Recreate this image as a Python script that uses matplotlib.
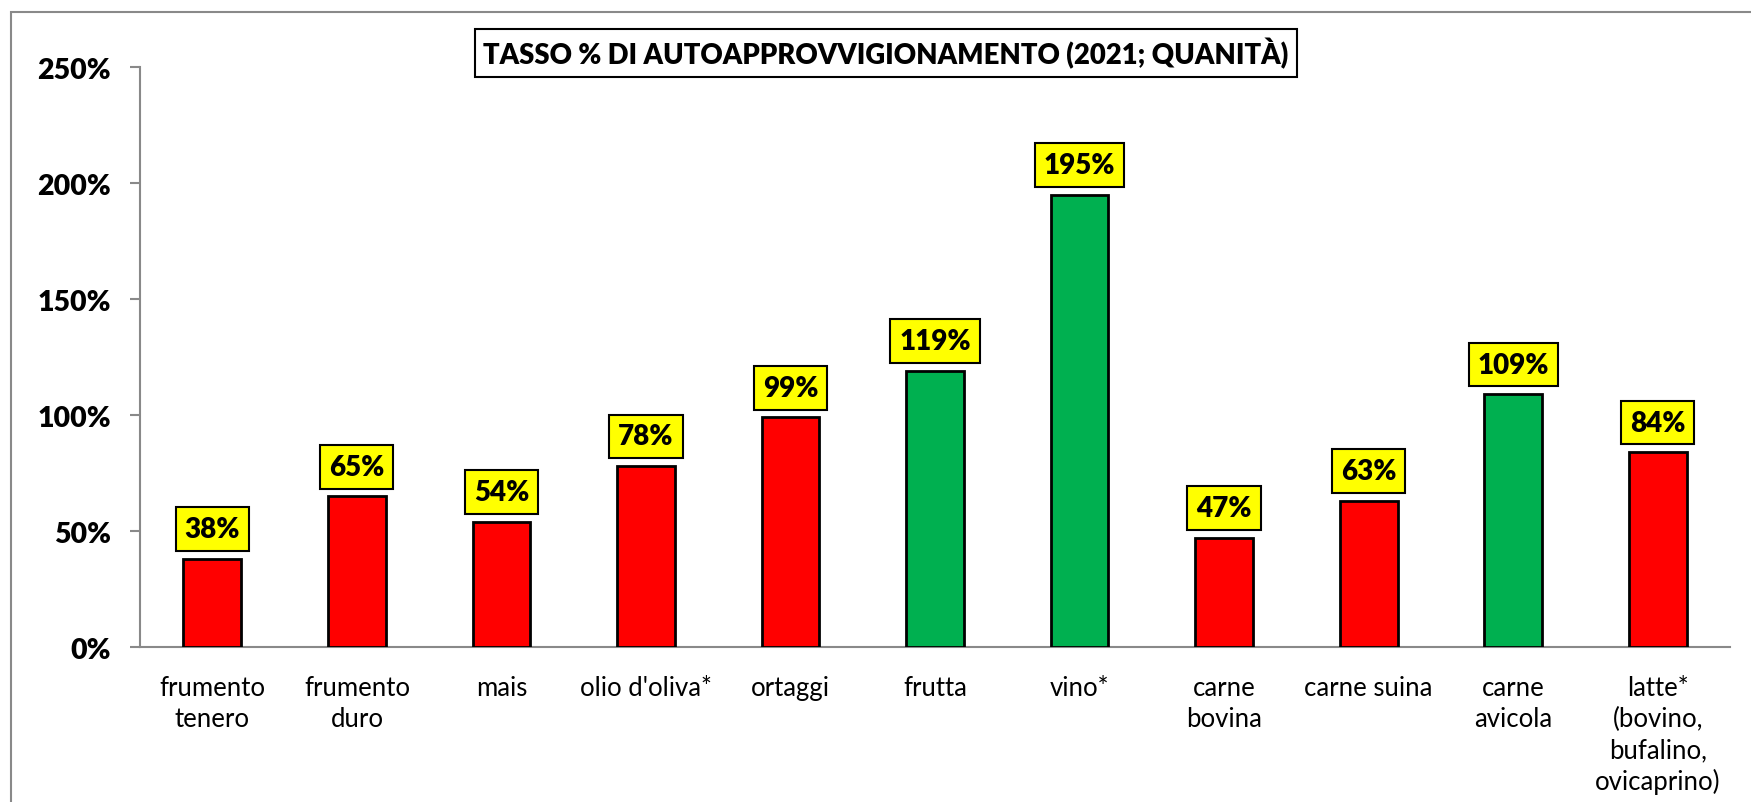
import matplotlib.pyplot as plt
from matplotlib.patches import Rectangle
from matplotlib.ticker import FuncFormatter

plt.rcParams["font.family"] = ["Lato", "DejaVu Sans"]

categories = [
    "frumento\ntenero", "frumento\nduro", "mais", "olio d'oliva*", "ortaggi",
    "frutta", "vino*", "carne\nbovina", "carne suina", "carne\navicola",
    "latte*\n(bovino,\nbufalino,\novicaprino)",
]
values = [38, 65, 54, 78, 99, 119, 195, 47, 63, 109, 84]
y_ticks = [0, 50, 100, 150, 200, 250]
title = "TASSO % DI AUTOAPPROVVIGIONAMENTO (2021; QUANITÀ)"

RED = "#FF0000"
GREEN = "#00B050"
GRAY = "#898989"


def main():
    fig = plt.figure(figsize=(17.51, 8.03), dpi=100)
    ax = fig.add_axes([0.080, 0.193, 0.908, 0.722])

    # barre: verdi sopra il 100%
    colors = [GREEN if v > 100 else RED for v in values]
    x = list(range(len(values)))
    ax.bar(x, values, width=0.40, color=colors, edgecolor="black", linewidth=2, zorder=3)

    for xi, v in zip(x, values):
        ax.annotate(f"{v}%", (xi, v), xytext=(0, 12), textcoords="offset points",
                    ha="center", va="bottom", fontsize=20, fontweight="heavy",
                    bbox=dict(boxstyle="square,pad=0.32", fc="#FFFF00", ec="black", lw=1.5))

    ax.set_xlim(-0.5, len(values) - 0.5)
    ax.set_ylim(0, 250)
    ax.set_yticks(y_ticks)
    ax.yaxis.set_major_formatter(FuncFormatter(lambda v, p: f"{int(v)}%"))
    ax.set_xticks(x)
    ax.set_xticklabels(categories, fontsize=18.5, linespacing=1.3, va="top")

    for s in ["top", "right"]:
        ax.spines[s].set_visible(False)
    for s in ["left", "bottom"]:
        ax.spines[s].set_color(GRAY)
        ax.spines[s].set_linewidth(1.5)
    ax.tick_params(axis="y", length=7, width=1.5, color=GRAY, labelsize=20.5, pad=14)
    for lbl in ax.get_yticklabels():
        lbl.set_fontweight("heavy")
    ax.tick_params(axis="x", length=0, pad=20)

    # titolo in riquadro
    fig.text(0.506, 0.933, title, ha="center", va="center", fontsize=19.8,
             fontweight="heavy",
             bbox=dict(boxstyle="square,pad=0.3", fc="white", ec="black", lw=1.5))

    # cornice esterna
    fig.patches.append(Rectangle((11 / 1751, -0.5), 2, 0.5 + (1 - 13 / 803),
                                 transform=fig.transFigure, fill=False,
                                 ec=GRAY, lw=1.5))

    plt.savefig("out.png", dpi=100)


if __name__ == "__main__":
    main()
